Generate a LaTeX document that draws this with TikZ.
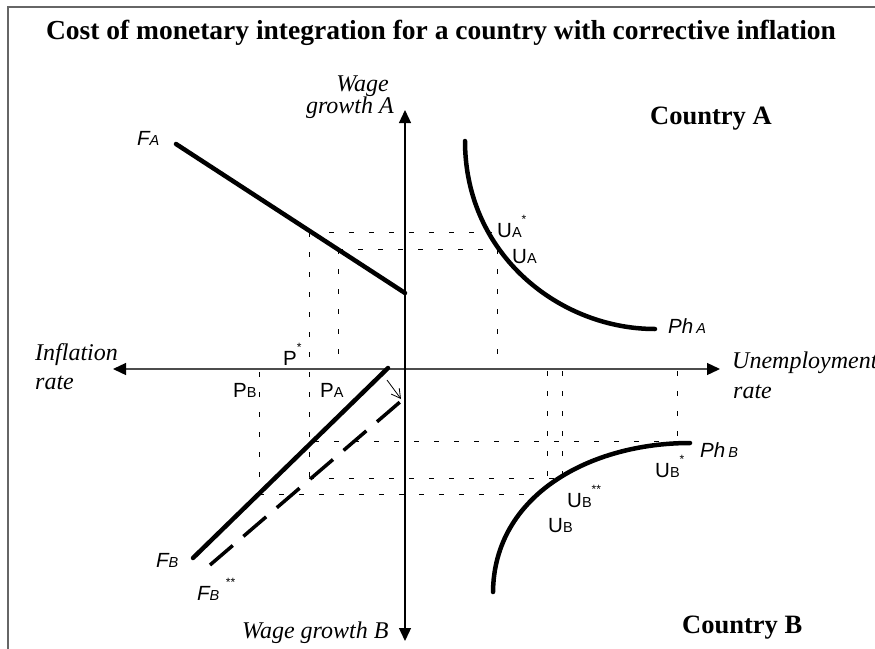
\documentclass[tikz,border=0pt]{standalone}
\usepackage{fontspec}
\setmainfont{Liberation Serif}
\setsansfont{Liberation Sans}
\usetikzlibrary{arrows.meta}

\newcommand{\lblfont}{\sffamily\fontsize{20.5}{20.5}\selectfont}
\newcommand{\lsub}[1]{{\fontsize{14.5}{14.5}\selectfont #1}}
\newcommand{\lstar}[1]{\raisebox{14pt}{\fontsize{12}{12}\selectfont #1}}
\newcommand{\axfont}{\itshape\fontsize{24}{24}\selectfont}
\newcommand{\ctryfont}{\bfseries\fontsize{26.5}{26.5}\selectfont}

\begin{document}
\begin{tikzpicture}[x=1pt,y=-1pt,
  guide/.style={dash pattern=on 5pt off 15pt, line width=0.9pt},
  curve/.style={line width=4.5pt, line cap=round},
  axis/.style={line width=1.3pt,
    {Triangle[length=13pt,width=12pt,color=black]}-{Triangle[length=13pt,width=12pt,color=black]}},
  lbl/.style={inner sep=0pt, anchor=base west}]
\path[use as bounding box, clip] (0,0) rectangle (875,648);
\draw[black!60, line width=1.5pt] (8,660) -- (8,7) -- (890,7);

% axes
\coordinate (xl) at (113,369);
\coordinate (xr) at (720,369);
\coordinate (yt) at (405,110);
\coordinate (yb) at (405,641);
\draw[axis, black!70] (xl) -- (xr);
\draw[axis] (yb) -- (yt);

% curves
\coordinate (FA1) at (176,144);
\coordinate (FA2) at (405,293);
\coordinate (FB1) at (193,558);
\coordinate (FB2) at (388,368);
\coordinate (FC1) at (210,565);
\coordinate (FC2) at (400,402);
\coordinate (PhA1) at (465,141);
\coordinate (PhA2) at (655,329);
\coordinate (PhB1) at (493,592);
\coordinate (PhB2) at (690,443);
\draw[curve] (FA1) -- (FA2);
\draw[curve] (FB1) -- (FB2);
\draw[line width=3.5pt, dash pattern=on 30pt off 14pt] (FC1) -- (FC2);
\draw[curve] (PhA1) .. controls (465,255) and (560,329) .. (PhA2);
\draw[curve] (PhB1) .. controls (494,495) and (590,443) .. (PhB2);
\coordinate (sh1) at (387,380);
\coordinate (sh2) at (401,399);
\draw[line width=0.8pt, -{Straight Barb[length=9pt,width=10pt]}] (sh1) -- (sh2);

% guides
\coordinate (aS) at (309,232);
\coordinate (aUs) at (492,232);
\coordinate (aP) at (338,249);
\coordinate (aU) at (497,249);
\coordinate (pA) at (338,358);
\coordinate (uA) at (497,358);
\coordinate (pS) at (309,478);
\coordinate (pB1) at (259,372);
\coordinate (pB2) at (259,494);
\coordinate (bS1) at (314,441);
\coordinate (bS2) at (688,441);
\coordinate (bSS) at (557,478);
\coordinate (bB) at (540,494);
\draw[guide] (aS) -- (aUs);
\draw[guide] (aP) -- (aU);
\draw[guide] (aS) -- (pS);
\draw[guide] (aP) -- (pA);
\draw[guide] (aU) -- (uA);
\draw[guide] (pB1) -- (pB2);
\draw[guide] (bS1) -- (bS2);
\draw[guide] (pS) -- (bSS);
\draw[guide] (pB2) -- (bB);
\draw[guide] (547,371) -- (547,478);
\draw[guide] (562,371) -- (562,476);
\draw[guide] (677,371) -- (677,441);

% texts
\node[anchor=base] (title) at (441,39)
  {\fontsize{27.5}{27.5}\selectfont\bfseries Cost of monetary integration for a country with corrective inflation};
\node[lbl] (ctryA) at (650,124) {\ctryfont Country A};
\node[lbl] (ctryB) at (682,633) {\ctryfont Country B};
\node[lbl] (infl1) at (35,360) {\axfont Inflation};
\node[lbl] (infl2) at (35,389) {\axfont rate};
\node[lbl] (unem1) at (732,368) {\axfont Unemployment};
\node[lbl] (unem2) at (733,398) {\axfont rate};
\node[lbl] (wgB) at (242,638) {\axfont Wage growth B};
\node[inner sep=0pt, anchor=base east] (wgA1) at (389,91) {\axfont Wage};
\node[inner sep=0pt, anchor=base east] (wgA2) at (394,113) {\axfont growth A};

\node[lbl] (lFA) at (137,145) {\lblfont\itshape F\lsub{A}};
\node[lbl] (lFB) at (156,567) {\lblfont\itshape F\lsub{B}};
\node[lbl] (lFC) at (197,600) {\lblfont\itshape F\lsub{B}\kern6pt\lstar{**}};
\node[lbl] (lPhA) at (668,333) {\lblfont\itshape Ph\kern3pt\lsub{A}};
\node[lbl] (lPhB) at (700,457) {\lblfont\itshape Ph\kern3pt\lsub{B}};
\node[lbl] (lPs) at (283,365) {\lblfont P\lstar{*}};
\node[lbl] (lPB) at (233,397) {\lblfont P\lsub{B}};
\node[lbl] (lPA) at (320,397) {\lblfont P\lsub{A}};
\node[lbl] (lUAs) at (497,237) {\lblfont U\lsub{A}\lstar{*}};
\node[lbl] (lUA) at (512,263) {\lblfont U\lsub{A}};
\node[lbl] (lUBs) at (655,477) {\lblfont U\lsub{B}\lstar{*}};
\node[lbl] (lUBss) at (567,507) {\lblfont U\lsub{B}\lstar{**}};
\node[lbl] (lUB) at (548,532) {\lblfont U\lsub{B}};
\end{tikzpicture}
\end{document}
